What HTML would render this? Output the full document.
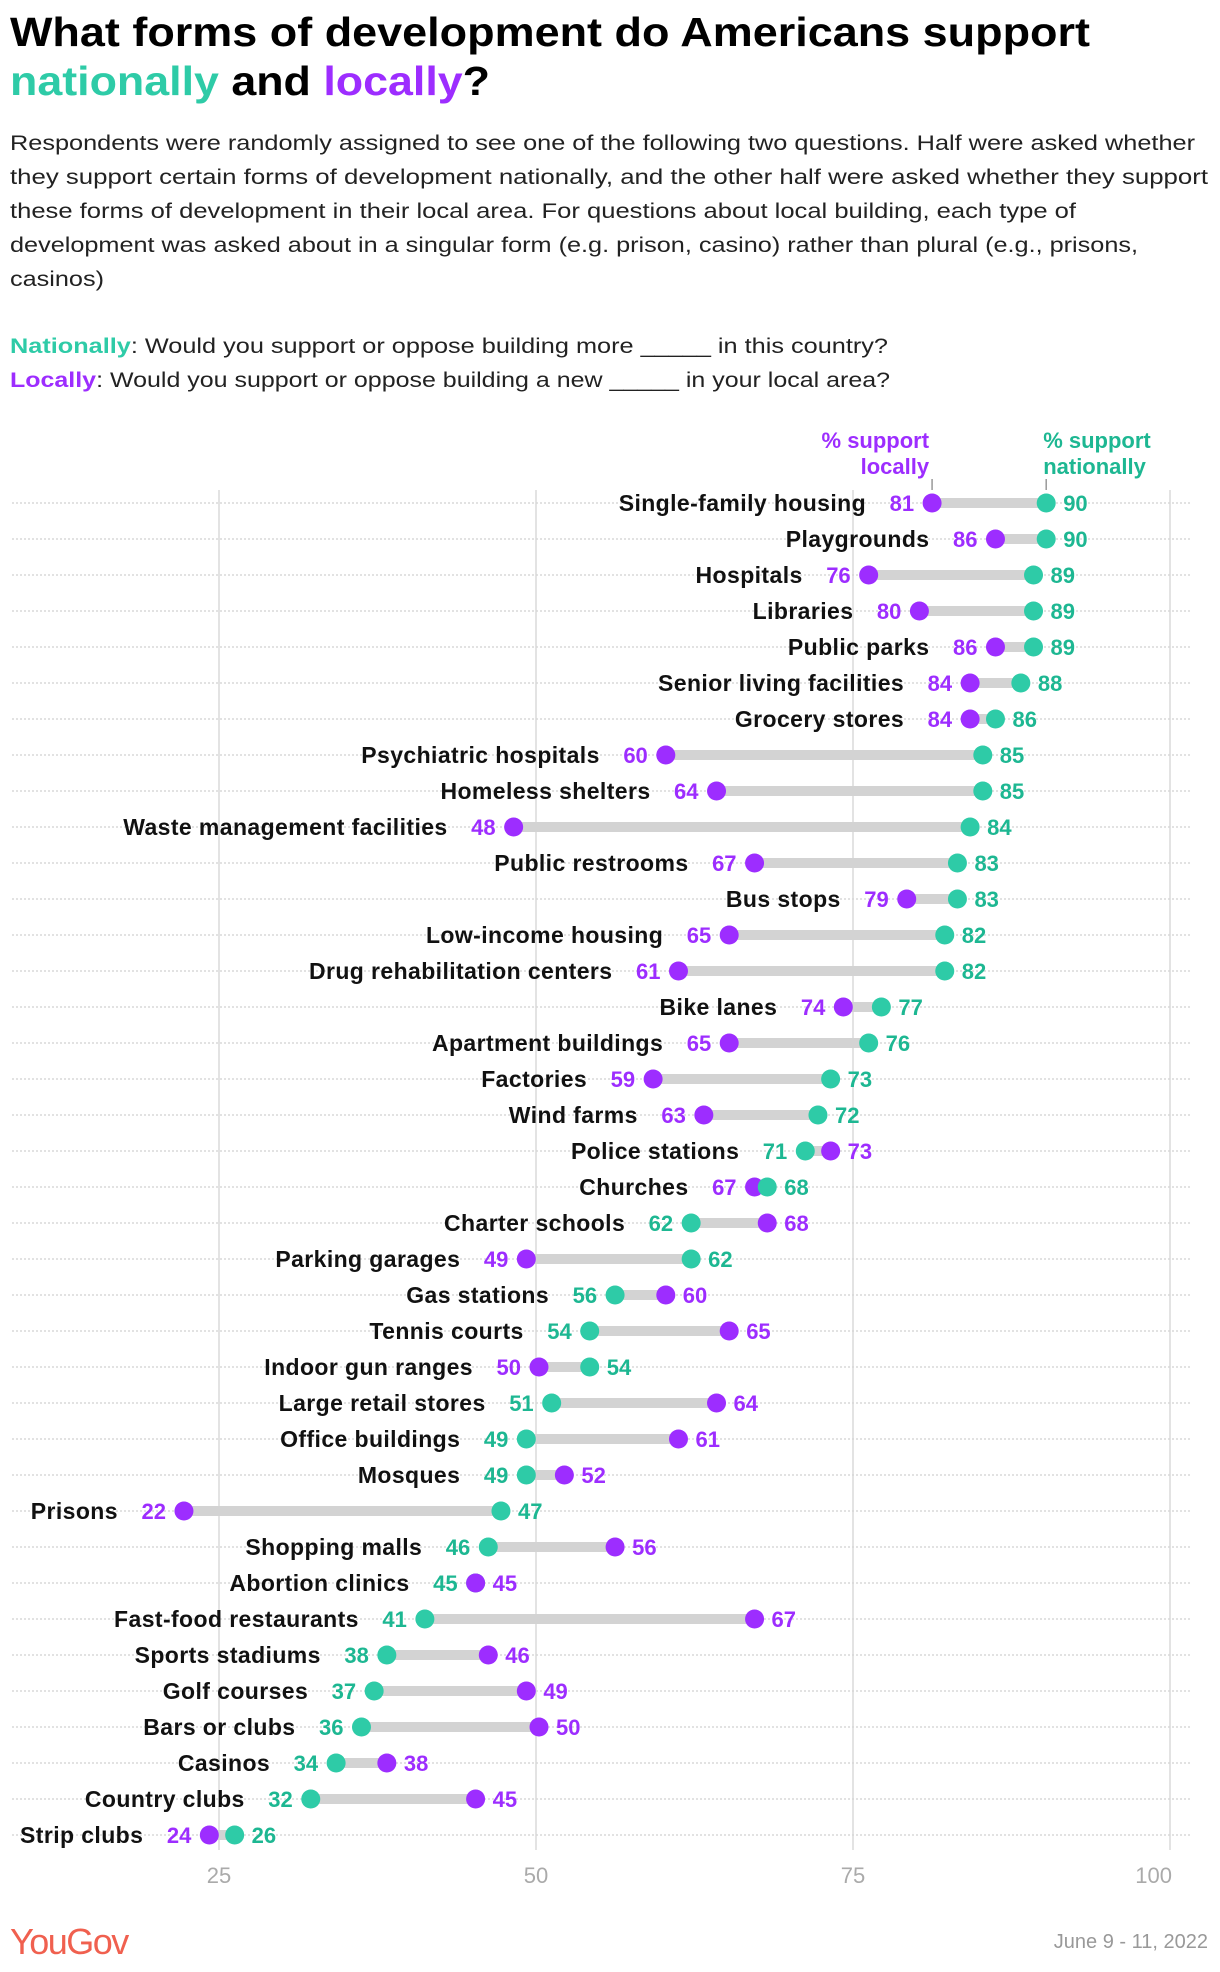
<!DOCTYPE html>
<html><head><meta charset="utf-8">
<style>
html,body{margin:0;padding:0;background:#fff;}
svg{display:block;font-family:"Liberation Sans",sans-serif;}
</style></head>
<body>
<svg id="chart" width="1220" height="1972" viewBox="0 0 1220 1972" xmlns="http://www.w3.org/2000/svg">
<g font-weight="bold" font-size="41">
<text x="10" y="46" textLength="1080" lengthAdjust="spacingAndGlyphs">What forms of development do Americans support</text>
<text x="10" y="95" textLength="480" lengthAdjust="spacingAndGlyphs"><tspan fill="#2ecba7">nationally</tspan> and <tspan fill="#9d2dff">locally</tspan>?</text>
</g>
<g font-size="21" fill="#222">
<text x="10" y="150" textLength="1185" lengthAdjust="spacingAndGlyphs">Respondents were randomly assigned to see one of the following two questions. Half were asked whether</text>
<text x="10" y="184" textLength="1198" lengthAdjust="spacingAndGlyphs">they support certain forms of development nationally, and the other half were asked whether they support</text>
<text x="10" y="218" textLength="1066" lengthAdjust="spacingAndGlyphs">these forms of development in their local area. For questions about local building, each type of</text>
<text x="10" y="252" textLength="1128" lengthAdjust="spacingAndGlyphs">development was asked about in a singular form (e.g. prison, casino) rather than plural (e.g., prisons,</text>
<text x="10" y="286" font-size="21" textLength="94" lengthAdjust="spacingAndGlyphs">casinos)</text>
</g>
<g font-size="21" fill="#222">
<text x="10" y="353" textLength="878" lengthAdjust="spacingAndGlyphs"><tspan fill="#2ecba7" font-weight="bold">Nationally</tspan>: Would you support or oppose building more _____ in this country?</text>
<text x="10" y="387" textLength="880" lengthAdjust="spacingAndGlyphs"><tspan fill="#9d2dff" font-weight="bold">Locally</tspan>: Would you support or oppose building a new _____ in your local area?</text>
</g>
<g id="grid"></g>
<g id="header" font-weight="bold" font-size="22"></g>
<g id="rows"></g>
<g id="ticks"></g>
<text x="10" y="1954" font-size="36" fill="#f0604f" letter-spacing="-1.5">YouGov</text>
<text x="1208" y="1948" font-size="20" fill="#999" text-anchor="end">June 9 - 11, 2022</text>
</svg>
<script>
const categories=["Single-family housing","Playgrounds","Hospitals","Libraries","Public parks","Senior living facilities","Grocery stores","Psychiatric hospitals","Homeless shelters","Waste management facilities","Public restrooms","Bus stops","Low-income housing","Drug rehabilitation centers","Bike lanes","Apartment buildings","Factories","Wind farms","Police stations","Churches","Charter schools","Parking garages","Gas stations","Tennis courts","Indoor gun ranges","Large retail stores","Office buildings","Mosques","Prisons","Shopping malls","Abortion clinics","Fast-food restaurants","Sports stadiums","Golf courses","Bars or clubs","Casinos","Country clubs","Strip clubs"];
const nationalValues=[90,90,89,89,89,88,86,85,85,84,83,83,82,82,77,76,73,72,71,68,62,62,56,54,54,51,49,49,47,46,45,41,38,37,36,34,32,26];
const localValues=[81,86,76,80,86,84,84,60,64,48,67,79,65,61,74,65,59,63,73,67,68,49,60,65,50,64,61,52,22,56,45,67,46,49,50,38,45,24];
const tickValues=[25,50,75,100];

const NS="http://www.w3.org/2000/svg";
const G="#2ecba7",GT="#1db792",P="#9d2dff";
const x=v=>222+(v-25)*12.68;
const y=i=>503+i*36.0;
function mk(tag,attrs,parent,txt){const e=document.createElementNS(NS,tag);for(const k in attrs)e.setAttribute(k,attrs[k]);if(txt!==undefined)e.textContent=txt;parent.appendChild(e);return e;}
const grid=document.getElementById('grid'),rows=document.getElementById('rows'),ticks=document.getElementById('ticks'),header=document.getElementById('header');
tickValues.forEach(t=>{
  const l=mk('line',{x1:x(t)-3,x2:x(t)-3,y1:490,y2:1850,stroke:'#e3e3e3','stroke-width':2},grid);
  
  
  const tx=mk('text',{x:x(t)-3,y:1883,'text-anchor':t===100?'end':'middle','font-size':22,fill:'#aaa'},ticks,String(t));
  if(t===100)tx.setAttribute('x',x(t)-1);
  
  
});
categories.forEach((c,i)=>{
  const l=mk('line',{x1:12,x2:1192,y1:y(i),y2:y(i),stroke:'#d8d8d8','stroke-width':1.5,'stroke-dasharray':'2 2'},grid);
  
  
});
const lx=x(localValues[0]),nx=x(nationalValues[0]);
const h1=mk('text',{x:lx-3,y:448,'text-anchor':'end',fill:P},header,'% support');


mk('text',{x:lx-3,y:474,'text-anchor':'end',fill:P},header,'locally');
const h2=mk('text',{x:nx-3,y:448,fill:GT},header,'% support');


mk('text',{x:nx-3,y:474,fill:GT},header,'nationally');
mk('line',{x1:lx,x2:lx,y1:479,y2:490,stroke:'#999','stroke-width':1.5},header);
mk('line',{x1:nx,x2:nx,y1:479,y2:490,stroke:'#999','stroke-width':1.5},header);

categories.forEach((c,i)=>{
  const n=nationalValues[i],lo=localValues[i],yy=y(i);
  const g=mk('g',{},rows);
  
  
  const bar=mk('line',{x1:x(n),x2:x(lo),y1:yy,y2:yy,stroke:'#d3d3d3','stroke-width':10},g);
  
  
  const natLeft=n<=lo;
  const leftV=natLeft?n:lo,rightV=natLeft?lo:n;
  const leftC=natLeft?GT:P,rightC=natLeft?P:GT;
  const lt=mk('text',{x:x(leftV)-18,y:yy+8,'text-anchor':'end','font-weight':'bold','font-size':22,fill:leftC},g,String(leftV));
  
  
  const rt=mk('text',{x:x(rightV)+17,y:yy+8,'font-weight':'bold','font-size':22,fill:rightC},g,String(rightV));
  
  
  const cl=mk('text',{x:x(leftV)-66,y:yy+8,'text-anchor':'end','font-weight':'bold','font-size':23,'letter-spacing':'0.4',fill:'#111'},g,c);
  
  
  const dl=mk('circle',{cx:x(lo),cy:yy,r:9.5,fill:P},g);
  
  
  const dn=mk('circle',{cx:x(n),cy:yy,r:9.5,fill:G},g);
  
  
  if(n===lo){g.appendChild(dl);}
});
</script>
</body></html>
